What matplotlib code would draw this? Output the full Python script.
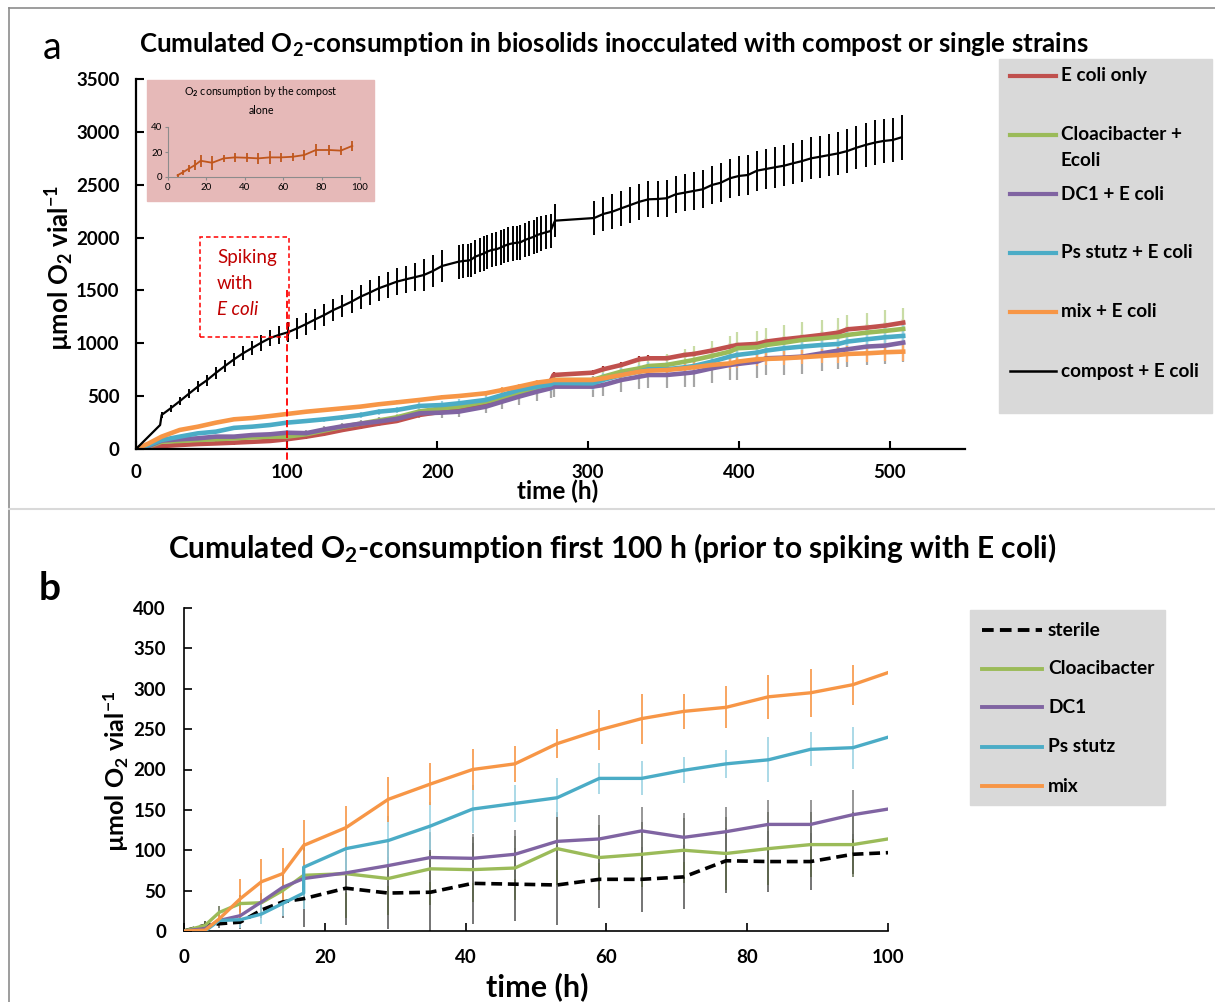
import numpy as np
import matplotlib
matplotlib.use('Agg')
import matplotlib.pyplot as plt
from matplotlib.lines import Line2D
from matplotlib.patches import Rectangle

plt.rcParams['font.family'] = ['Lato', 'DejaVu Sans']
plt.rcParams['font.weight'] = 'bold'
plt.rcParams['mathtext.fontset'] = 'custom'
plt.rcParams['mathtext.rm'] = 'Lato'
plt.rcParams['mathtext.bf'] = 'Lato:bold'
plt.rcParams['mathtext.it'] = 'Lato:italic'

# ---------------- data, panel a ----------------
# compost + E coli (black)
t_black = [0, 16, 17, 23, 29, 35, 41, 47, 53, 59, 65, 71, 77, 83, 89, 95, 101, 107, 113, 119,
           125, 131, 137, 143, 149, 155, 161, 167, 173, 179, 185, 191, 197, 203,
           214, 217, 220, 222, 225, 228, 231, 233, 236, 239, 242, 244, 247, 250, 253, 255,
           258, 261, 264, 266, 269, 272, 275, 278,
           304, 310, 316, 322, 328, 334, 340, 346, 352, 358, 364, 370, 376, 382, 388, 394,
           400, 406, 412, 418, 424, 430, 436, 442, 448, 454, 460, 466, 472, 478, 484, 490,
           496, 502, 508]
compost = [0, 227, 322, 385, 452, 522, 590, 650, 720, 785, 848, 905, 955, 1005, 1050, 1080, 1105,
           1142, 1183, 1227, 1268, 1315, 1353, 1394, 1441, 1479, 1520, 1551, 1583, 1605, 1625,
           1646, 1684, 1731,
           1772, 1778, 1782, 1788, 1819, 1835, 1851, 1867, 1883, 1889, 1905, 1920, 1936, 1946,
           1952, 1955, 1977, 1993, 2008, 2024, 2037, 2050, 2062, 2160,
           2185, 2223, 2245, 2277, 2308, 2339, 2362, 2365, 2372, 2409, 2425, 2441, 2457, 2497,
           2519, 2561, 2583, 2592, 2633, 2649, 2665, 2680, 2703, 2724, 2750, 2765, 2781, 2797,
           2819, 2850, 2876, 2898, 2914, 2923, 2949]
compost_err = [0, 0, 25, 32, 38, 44, 50, 54, 57, 60, 63, 66, 70, 75, 80, 88, 95, 98, 100, 102,
               104, 106, 108, 110, 113, 116, 119, 122, 125, 128, 132, 150, 150, 150,
               160, 162, 158, 165, 160, 163, 166, 160, 164, 162, 165, 160, 166, 163, 160, 165,
               162, 164, 160, 166, 163, 160, 162, 155,
               160, 162, 164, 166, 168, 170, 172, 172, 174, 176, 178, 180, 180, 182, 184, 186,
               188, 188, 190, 192, 194, 196, 196, 198, 200, 200, 202, 204, 206, 206, 208, 210,
               210, 212, 213]

# inoculated series, shared sampling grid
t_a = [0, 8, 17, 29, 41, 53, 65, 77, 89, 100, 113, 125, 137, 149, 161, 173, 188, 203, 214, 232,
       243, 254, 266, 275, 277, 303, 310, 322, 334, 340, 352, 364, 370, 382, 394, 399, 412, 418,
       430, 442, 455, 466, 472, 485, 497, 509]
ecoli_only = [0, 10, 28, 38, 47, 53, 60, 68, 76, 92, 117, 145, 180, 210, 240, 265, 322, 353, 385,
              432, 479, 527, 590, 637, 700, 722, 754, 795, 849, 858, 858, 890, 899, 931, 969, 984,
              994, 1016, 1038, 1057, 1079, 1101, 1132, 1148, 1167, 1195]
cloac_ecoli = [0, 20, 69, 76, 85, 92, 101, 110, 117, 117, 140, 175, 210, 240, 270, 300, 355, 385,
               400, 448, 479, 527, 564, 600, 653, 653, 684, 732, 763, 785, 795, 826, 842, 880, 921,
               953, 962, 984, 1006, 1032, 1047, 1063, 1079, 1101, 1117, 1136]
dc1_ecoli = [0, 25, 80, 92, 101, 117, 117, 132, 139, 154, 150, 185, 215, 240, 260, 285, 337, 344,
             353, 400, 448, 495, 542, 574, 590, 590, 605, 653, 684, 700, 700, 716, 725, 763, 795,
             804, 826, 858, 864, 874, 905, 931, 943, 969, 978, 1006]
ps_ecoli = [0, 35, 85, 117, 148, 164, 200, 211, 227, 249, 265, 281, 300, 322, 353, 369, 407, 416,
            432, 464, 511, 558, 590, 610, 625, 621, 653, 700, 732, 754, 754, 773, 785, 826, 874,
            890, 912, 931, 953, 969, 984, 994, 1016, 1038, 1057, 1070]
mix_ecoli = [0, 50, 117, 180, 211, 249, 281, 293, 312, 331, 353, 369, 385, 401, 423, 441, 464, 489,
             501, 527, 558, 590, 628, 645, 653, 653, 668, 700, 732, 741, 747, 763, 773, 795, 810,
             826, 849, 852, 858, 868, 880, 890, 899, 905, 915, 921]
ecoli_only_err = [0, 5, 15, 18, 18, 18, 18, 18, 18, 18, 20, 20, 20, 20, 22, 22, 22, 24, 24, 24,
                  25, 25, 26, 26, 26, 26, 28, 28, 28, 28, 30, 30, 30, 30, 30, 32, 32, 32, 32, 34,
                  34, 34, 34, 36, 36, 36]
cloac_ecoli_err = [0, 5, 10, 10, 12, 12, 14, 14, 15, 15, 18, 20, 22, 25, 28, 30, 35, 40, 45, 50,
                   55, 60, 65, 70, 40, 40, 50, 60, 80, 90, 100, 120, 130, 140, 150, 150, 155, 160,
                   165, 170, 175, 180, 185, 190, 195, 200]
dc1_ecoli_err = [0, 5, 10, 12, 14, 16, 18, 20, 22, 25, 28, 30, 32, 35, 38, 40, 45, 50, 55, 60, 70,
                 80, 90, 95, 100, 100, 105, 110, 115, 120, 125, 130, 135, 140, 145, 150, 150, 155,
                 160, 160, 165, 170, 170, 175, 175, 180]
ps_ecoli_err = [0, 5, 8, 10, 12, 14, 15, 16, 18, 20, 22, 24, 26, 28, 30, 32, 35, 38, 40, 45, 50,
                55, 60, 60, 60, 60, 62, 64, 66, 68, 70, 72, 74, 76, 78, 80, 82, 84, 86, 88, 90, 92,
                94, 96, 98, 100]
mix_ecoli_err = [0, 8, 10, 12, 12, 12, 12, 12, 14, 14, 14, 14, 16, 16, 16, 18, 18, 20, 20, 22, 24,
                 26, 28, 30, 30, 30, 32, 35, 38, 40, 42, 45, 48, 50, 55, 58, 60, 62, 65, 68, 70,
                 72, 75, 78, 80, 85]

# inset: compost alone
t_inset = [5, 8, 11, 14, 17, 23, 29, 35, 41, 47, 53, 59, 65, 71, 77, 84, 90, 96]
compost_alone = [1.4, 4, 6.8, 9.5, 13, 11.4, 14.9, 15.7, 15.4, 14.9, 15.7, 15.7, 16.2, 17.6, 21.6,
                 21.6, 21.1, 24.9]
compost_alone_err = [1, 2, 3, 4, 4.7, 5.4, 2.5, 3.5, 3.5, 4.5, 5, 3.5, 3, 4, 5, 4, 3.5, 4]

# ---------------- data, panel b ----------------
t_b = [0, 3, 5, 8, 11, 14, 17, 23, 29, 35, 41, 47, 53, 59, 65, 71, 77, 83, 89, 95, 100]
sterile = [0, 7, 9, 11, 26, 36, 40, 53, 47, 48, 59, 58, 57, 64, 64, 67, 87, 86, 86, 95, 97]
cloac = [0, 7, 23, 34, 35, 50, 69, 71, 65, 77, 76, 78, 102, 91, 95, 100, 96, 102, 107, 107, 114]
dc1 = [0, 3, 13, 19, 36, 54, 65, 72, 81, 91, 90, 95, 111, 114, 124, 116, 123, 132, 132, 144, 151]
mix = [0, 1, 15, 40, 61, 71, 106, 128, 163, 182, 200, 207, 232, 249, 263, 272, 277, 290, 295, 305,
       320]
t_ps = [0, 3, 5, 8, 11, 14, 17, 17, 23, 29, 35, 41, 47, 53, 59, 65, 71, 77, 83, 89, 95, 100]
ps = [0, 0, 13, 14, 21, 34, 47, 79, 102, 112, 130, 151, 158, 165, 189, 189, 199, 207, 212, 225,
      227, 240]
sterile_err = [0, 5, 5, 8, 10, 20, 35, 45, 45, 50, 50, 45, 50, 35, 40, 40, 40, 38, 35, 25, 0]
cloac_err = [0, 5, 8, 10, 12, 20, 40, 55, 45, 45, 40, 40, 45, 40, 40, 40, 45, 45, 40, 40, 0]
dc1_err = [0, 3, 5, 8, 10, 15, 20, 25, 25, 30, 30, 30, 35, 30, 30, 30, 30, 30, 30, 30, 0]
mix_err = [0, 0, 8, 24, 28, 32, 31, 27, 28, 26, 26, 22, 18, 25, 31, 22, 26, 27, 30, 25, 0]
ps_err = [0, 0, 5, 10, 12, 15, 20, 20, 30, 30, 30, 30, 23, 24, 19, 21, 16, 17, 28, 21, 26, 0]

RED, GREEN, PURPLE, CYAN, ORANGE = '#C0504D', '#9BBB59', '#8064A2', '#4BACC6', '#F79646'
W, H = 1215, 1002


def fx(px):
    return px / W


def fy(py):
    return 1 - py / H


fig = plt.figure(figsize=(12.15, 10.02), dpi=100)

# frame lines of the composite image
fig.add_artist(Line2D([fx(9), fx(9)], [0, fy(8)], color='#8C8C8C', lw=1.2))
fig.add_artist(Line2D([fx(9), 1], [fy(8), fy(8)], color='#8C8C8C', lw=1.2))
fig.add_artist(Line2D([fx(9), 1], [fy(509), fy(509)], color='#D9D9D9', lw=1.5))

# ---------------- panel a ----------------
ax = fig.add_axes([fx(136), fy(449), fx(965) - fx(136), fy(79) - fy(449)])
series_a = [
    (ecoli_only, ecoli_only_err, RED, '#A0302C'),
    (cloac_ecoli, cloac_ecoli_err, GREEN, '#C9DCA5'),
    (dc1_ecoli, dc1_ecoli_err, PURPLE, '#A6A6A6'),
    (ps_ecoli, ps_ecoli_err, CYAN, '#9DD3E3'),
    (mix_ecoli, mix_ecoli_err, ORANGE, '#F8A868'),
]
for vals, errs, c, ec in series_a:
    ax.errorbar(t_a, vals, yerr=errs, color=c, lw=3.3, ecolor=ec, elinewidth=1.6, capsize=0)
ax.errorbar(t_black, compost, yerr=compost_err, color='black', lw=1.6, ecolor='black',
            elinewidth=1.4, capsize=0)

ax.set_xlim(0, 550)
ax.set_ylim(0, 3500)
ax.set_xticks(range(0, 501, 100))
ax.set_yticks(range(0, 3501, 500))
for s in ['top', 'right']:
    ax.spines[s].set_visible(False)
for s in ['left', 'bottom']:
    ax.spines[s].set_linewidth(1.6)
ax.tick_params(direction='in', length=6, width=1.5, labelsize=13.5)
ax.tick_params(axis='y', pad=12)
ax.tick_params(axis='x', pad=11)

# spiking annotation
ax.add_patch(Rectangle((42.4, 1060), 59.1, 946, fill=False, ec='#FF0000', lw=1.1,
                       ls=(0, (3, 2)), clip_on=False, zorder=5))
ax.plot([100, 100], [1504, -130], color='#FF0000', lw=1.3, ls=(0, (4, 2)), clip_on=False,
        zorder=5)
ax.text(53.7, 1807, 'Spiking', color='#C00000', fontsize=13.5, fontweight='normal', va='center')
ax.text(53.7, 1561, 'with', color='#C00000', fontsize=13.5, fontweight='normal', va='center')
ax.text(53.7, 1315, 'E coli', color='#C00000', fontsize=13.5, fontweight='normal',
        style='italic', va='center')

fig.text(fx(614), fy(45), 'Cumulated O$_\\mathbf{2}$-consumption in biosolids inocculated with '
         'compost or single strains', ha='center', va='center', fontsize=18.6)
fig.text(fx(52), fy(48), 'a', ha='center', va='center', fontsize=27, fontweight='normal')
fig.text(fx(60), fy(268), '\u00b5mol O$_\\mathbf{2}$ vial$^\\mathbf{-1}$', rotation=90,
         ha='center', va='center', fontsize=18.5)
fig.text(fx(558), fy(491), 'time (h)', ha='center', va='center', fontsize=17.5)

# inset
fig.add_artist(Rectangle((fx(147), fy(201)), fx(374) - fx(147), fy(80) - fy(201),
                         transform=fig.transFigure, color='#E6B9B8', zorder=3))
fig.text(fx(261), fy(100), 'O$_2$ consumption by the compost\nalone', ha='center', va='center',
         fontsize=7.7, fontweight='normal', linespacing=1.6, zorder=4)
ins = fig.add_axes([fx(168), fy(177), fx(360) - fx(168), fy(127) - fy(177)], zorder=4)
ins.set_facecolor('none')
ins.errorbar(t_inset, compost_alone, yerr=compost_alone_err, color='#C0561C', lw=1.3,
             elinewidth=1.3, capsize=0)
ins.set_xlim(0, 100)
ins.set_ylim(0, 40)
ins.set_xticks(range(0, 101, 20))
ins.set_yticks([0, 20, 40])
for s in ['top', 'right']:
    ins.spines[s].set_visible(False)
for s in ['left', 'bottom']:
    ins.spines[s].set_color('#8C8C8C')
    ins.spines[s].set_linewidth(0.8)
ins.tick_params(length=2, width=0.8, color='#8C8C8C', labelsize=7, pad=2)
for lab in ins.get_xticklabels() + ins.get_yticklabels():
    lab.set_fontweight('normal')

# legend a
fig.add_artist(Rectangle((fx(999), fy(413)), fx(1212) - fx(999), fy(59) - fy(413),
                         transform=fig.transFigure, color='#D9D9D9', zorder=0))
leg_a = [(75.7, RED, 'E coli only', 3), (135, GREEN, 'Cloacibacter +', 3),
         (194, PURPLE, 'DC1 + E coli', 3), (252.7, CYAN, 'Ps stutz + E coli', 3),
         (311.7, ORANGE, 'mix + E coli', 3), (371, 'black', 'compost + E coli', 1.8)]
for y, c, lab, lw in leg_a:
    fig.add_artist(Line2D([fx(1010), fx(1056)], [fy(y), fy(y)], color=c, lw=lw))
    fig.text(fx(1061), fy(y), lab, va='center', fontsize=13.6)
fig.text(fx(1061), fy(160.7), 'Ecoli', va='center', fontsize=13.6)

# ---------------- panel b ----------------
bx = fig.add_axes([fx(184), fy(931), fx(888) - fx(184), fy(608) - fy(931)])
bx.errorbar(t_b, sterile, yerr=sterile_err, ecolor='#404040', elinewidth=1.2, capsize=0,
            fmt='none', alpha=0.85)
bx.errorbar(t_b, cloac, yerr=cloac_err, ecolor='#55603F', elinewidth=1.2, capsize=0,
            fmt='none', alpha=0.85)
bx.errorbar(t_b, dc1, yerr=dc1_err, ecolor='#707070', elinewidth=1.2, capsize=0,
            fmt='none', alpha=0.85)
bx.errorbar(t_ps, ps, yerr=ps_err, ecolor='#9DD3E3', elinewidth=1.2, capsize=0, fmt='none')
bx.errorbar(t_b, mix, yerr=mix_err, ecolor=ORANGE, elinewidth=1.2, capsize=0, fmt='none')
bx.plot(t_b, sterile, color='black', lw=2.6, ls=(0, (3, 1.6)), zorder=4)
bx.plot(t_b, cloac, color=GREEN, lw=2.4, zorder=4)
bx.plot(t_b, dc1, color=PURPLE, lw=2.4, zorder=4)
bx.plot(t_ps, ps, color=CYAN, lw=2.4, zorder=4)
bx.plot(t_b, mix, color=ORANGE, lw=2.4, zorder=4)

bx.set_xlim(0, 100)
bx.set_ylim(0, 400)
bx.set_xticks(range(0, 101, 20))
bx.set_yticks(range(0, 401, 50))
for s in ['top', 'right']:
    bx.spines[s].set_visible(False)
for s in ['left', 'bottom']:
    bx.spines[s].set_linewidth(1.2)
bx.tick_params(direction='in', length=6, width=1.2, labelsize=13.5, pad=13)

fig.text(fx(612), fy(548), 'Cumulated O$_\\mathbf{2}$-consumption first 100 h (prior to spiking '
         'with E coli)', ha='center', va='center', fontsize=21.5)
fig.text(fx(50), fy(588), 'b', ha='center', va='center', fontsize=28)
fig.text(fx(116), fy(771), '\u00b5mol O$_\\mathbf{2}$ vial$^\\mathbf{-1}$', rotation=90,
         ha='center', va='center', fontsize=18)
fig.text(fx(537), fy(987), 'time (h)', ha='center', va='center', fontsize=22)

# legend b
fig.add_artist(Rectangle((fx(970), fy(805)), fx(1165) - fx(970), fy(610) - fy(805),
                         transform=fig.transFigure, color='#D9D9D9', zorder=0))
leg_b = [(630, 'black', 'sterile'), (669, GREEN, 'Cloacibacter'), (707.3, PURPLE, 'DC1'),
         (746.7, CYAN, 'Ps stutz'), (786, ORANGE, 'mix')]
for y, c, lab in leg_b:
    ls = (0, (3, 1.6)) if lab == 'sterile' else '-'
    fig.add_artist(Line2D([fx(981.7), fx(1041.7)], [fy(y), fy(y)], color=c, lw=2.8, ls=ls))
    fig.text(fx(1048), fy(y), lab, va='center', fontsize=13.8)

fig.savefig('out.png', dpi=100)
